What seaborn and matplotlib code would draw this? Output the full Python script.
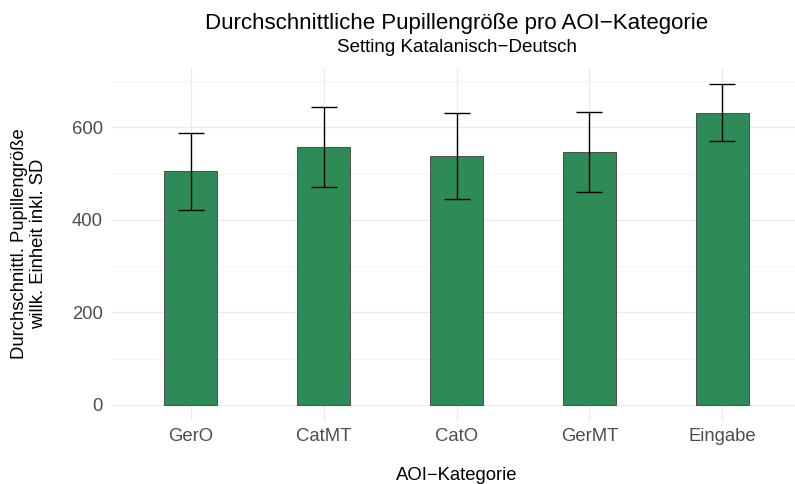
import seaborn as sns
import matplotlib.pyplot as plt
import pandas as pd

# Values
categories = ['GerO', 'CatMT', 'CatO', 'GerMT', 'Eingabe']
mean_pupil = [505, 558, 538, 547, 632]
sd_pupil = [83, 86, 92, 87, 62]
y_ticks = [0, 200, 400, 600]
y_minor = [100, 300, 500, 700]

df = pd.DataFrame({'aoi': categories, 'mean': mean_pupil, 'sd': sd_pupil})

sns.set_theme(style='white')
plt.rcParams['font.family'] = ['Liberation Sans', 'DejaVu Sans']

W, H = 795, 484
fig = plt.figure(figsize=(W / 100, H / 100), dpi=100)
# panel in pixels: left 111, right ~802 (cropped at 795), top 68, bottom 421
ax = fig.add_axes([111 / W, (H - 421) / H, (802 - 111) / W, (421 - 68) / H])

# grid (ggplot theme_minimal look)
for v in y_ticks:
    ax.axhline(v, color='#EBEBEB', lw=0.9, zorder=0)
for v in y_minor:
    ax.axhline(v, color='#F2F2F2', lw=0.6, zorder=0)
for i in range(len(categories)):
    ax.axvline(i, color='#EBEBEB', lw=0.9, zorder=0)

sns.barplot(data=df, x='aoi', y='mean', color='#2E8B57', saturation=1,
            width=0.4, edgecolor='#4D4D4D', linewidth=0.7, ax=ax, zorder=2)

ax.errorbar(range(len(categories)), df['mean'], yerr=df['sd'], fmt='none',
            ecolor='black', elinewidth=1.0, capsize=9.5, capthick=1.0, zorder=3)

ax.set_xlim(-0.6, len(categories) - 0.4)
ax.set_ylim(-34.6, 728.2)
ax.set_yticks(y_ticks)
ax.tick_params(axis='both', length=0, labelsize=13.3, labelcolor='#4D4D4D')
ax.tick_params(axis='x', pad=5)
ax.tick_params(axis='y', pad=6)
for s in ax.spines.values():
    s.set_visible(False)

ax.set_xlabel('')
ax.set_ylabel('')
fig.text(457 / W, 1 - 475 / H, 'AOI\u2212Kategorie', ha='center', va='center',
         fontsize=13.3, color='black')
fig.text(29 / W, 1 - 244 / H, 'Durchschnittl. Pupillengröße\nwillk. Einheit inkl. SD',
         rotation=90, ha='center', va='center', multialignment='center',
         fontsize=13.3, color='black', linespacing=1.15)

fig.text(457 / W, 1 - 24 / H, 'Durchschnittliche Pupillengröße pro AOI\u2212Kategorie',
         ha='center', va='center', fontsize=16, color='black')
fig.text(457 / W, 1 - 47 / H, 'Setting Katalanisch\u2212Deutsch',
         ha='center', va='center', fontsize=13.5, color='black')

fig.savefig('out.png', dpi=100)
